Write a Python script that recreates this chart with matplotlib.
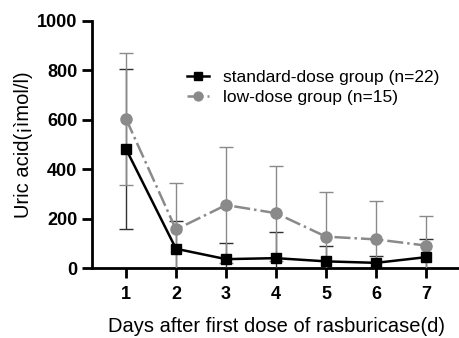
import numpy as np
import matplotlib.pyplot as plt

plt.rcParams['font.family'] = ['Liberation Sans', 'DejaVu Sans']

days = [1, 2, 3, 4, 5, 6, 7]
std_mean = [482, 78, 36, 40, 27, 21, 44]
std_sd = [325, 113, 64, 106, 63, 28, 74]
low_mean = [604, 156, 255, 222, 127, 116, 91]
low_sd = [266, 190, 236, 192, 181, 155, 120]

fig = plt.figure(figsize=(4.6, 3.38), dpi=100)
ax = fig.add_axes([0.2, 0.207, 0.8, 0.731])

# error bars (clipped at the axis)
ax.errorbar(days, std_mean, yerr=std_sd, fmt='none', ecolor='#303030',
            elinewidth=1, capsize=5, capthick=1, zorder=2)
ax.errorbar(days, low_mean, yerr=low_sd, fmt='none', ecolor='#8a8a8a',
            elinewidth=1, capsize=5, capthick=1, zorder=2)

ax.plot(days, std_mean, color='black', linestyle='-', linewidth=1.8,
        marker='s', markersize=7, label='standard-dose group (n=22)', zorder=4)
ax.plot(days, low_mean, color='#8a8a8a', linestyle='-.', linewidth=1.8,
        marker='o', markersize=8, label='low-dose group (n=15)', zorder=3)

ax.set_xlim(0.32, 7.68)
ax.set_ylim(0, 1000)
ax.set_xticks(days)
ax.set_yticks([0, 200, 400, 600, 800, 1000])

for s in ['top', 'right']:
    ax.spines[s].set_visible(False)
for s in ['left', 'bottom']:
    ax.spines[s].set_linewidth(2)
ax.spines['bottom'].set_zorder(1)

ax.tick_params(axis='both', direction='out', length=7, width=2, labelsize=13)
ax.tick_params(axis='x', pad=6)
for lab in ax.get_xticklabels() + ax.get_yticklabels():
    lab.set_fontweight('bold')

ax.set_xlabel('Days after first dose of rasburicase(d)', fontsize=14.5, labelpad=10)
ax.set_ylabel('Uric acid(¡ìmol/l)', fontsize=14.5, labelpad=3)

ax.legend(loc='upper left', bbox_to_anchor=(0.215, 0.865), frameon=False,
          fontsize=12.5, handlelength=1.3, handletextpad=0.8, labelspacing=0.3,
          markerscale=0.8)

fig.savefig('out.png', dpi=100)
